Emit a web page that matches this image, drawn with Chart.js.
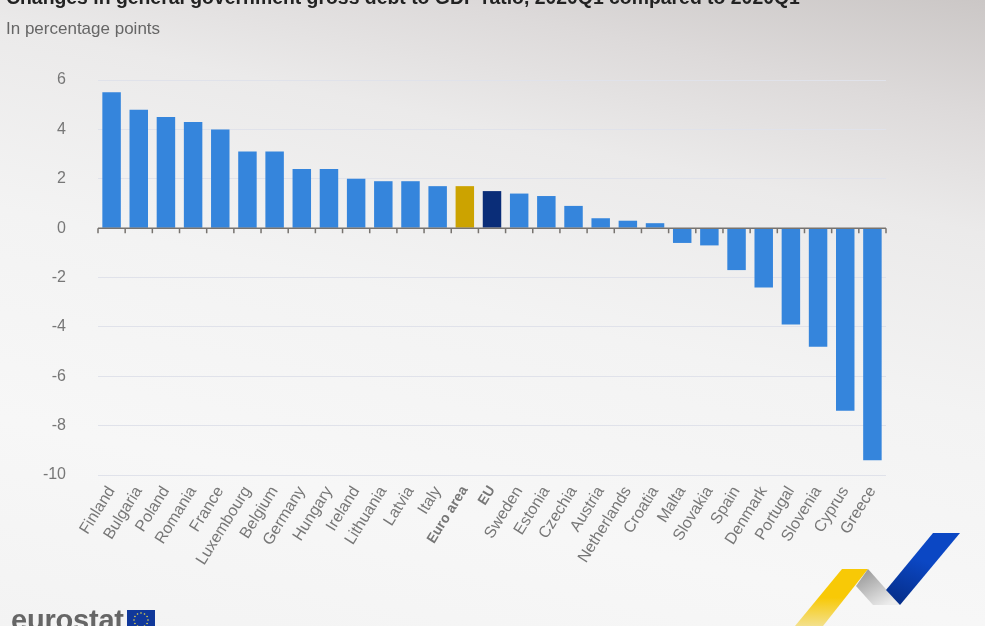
<!DOCTYPE html>
<html>
<head>
<meta charset="utf-8">
<title>Government debt change</title>
<script src="https://cdn.jsdelivr.net/npm/chart.js@4"></script>
<style>
  html, body { margin: 0; padding: 0; }
  body {
    position: relative; width: 985px; height: 626px; overflow: hidden;
    font-family: "Liberation Sans", Arial, sans-serif;
    background: linear-gradient(192deg, #cbc7c6 0%, #dddada 14%, #ebeaea 28%, #f3f3f3 50%, #f7f7f7 75%, #f3f3f3 100%);
  }
  #barChart { position: absolute; left: 0; top: 0; }
  .title { position: absolute; left: 6px; top: -14px; font-size: 19.4px; font-weight: bold; color: #222; white-space: nowrap; }
  .subtitle { position: absolute; left: 6px; top: 19px; font-size: 17px; color: #666; white-space: nowrap; }
  .brand { position: absolute; left: 11px; top: 604px; font-size: 29px; font-weight: bold; color: #666; letter-spacing: -0.2px; }
  svg { position: absolute; left: 0; top: 0; }
</style>
</head>
<body>
<canvas id="barChart" width="985" height="626"></canvas>
<div class="title">Changes in general government gross debt to GDP ratio, 2020Q1 compared to 2020Q1</div>
<div class="subtitle">In percentage points</div>
<div class="brand">eurostat</div>
<svg width="985" height="626" id="logos">
  <defs>
    <linearGradient id="yellow" x1="0" y1="0" x2="0" y2="1">
      <stop offset="0.5" stop-color="#f8c906"/><stop offset="1" stop-color="#f3e08c"/>
    </linearGradient>
    <linearGradient id="grey" x1="0" y1="0" x2="0.7" y2="1">
      <stop offset="0" stop-color="#8f8f8f"/><stop offset="1" stop-color="#ececec"/>
    </linearGradient>
    <linearGradient id="blue" x1="0.7" y1="0" x2="0.3" y2="1">
      <stop offset="0.4" stop-color="#0b47c4"/><stop offset="1" stop-color="#062f8c"/>
    </linearGradient>
  </defs>
  <polygon points="842,569 868,569 823,626 795,626" fill="url(#yellow)"/>
  <polygon points="868,569 900,605 873,605 856,586" fill="url(#grey)"/>
  <polygon points="933,533 960,533 900,605 886,590" fill="url(#blue)"/>
  <rect x="127" y="610" width="28" height="20" fill="#10389a"/>
  <g id="stars"></g>
</svg>
<script>
// Colores
const mainColor = '#3585dc';
const euroColor = '#cca300';
const euColor = '#0a2d78';
const textColor = '#777777';
const gridColor = '#e0e2ea';
const axisColor = '#77736f';

const categories = ['Finland', 'Bulgaria', 'Poland', 'Romania', 'France', 'Luxembourg', 'Belgium',
  'Germany', 'Hungary', 'Ireland', 'Lithuania', 'Latvia', 'Italy', 'Euro area', 'EU', 'Sweden',
  'Estonia', 'Czechia', 'Austria', 'Netherlands', 'Croatia', 'Malta', 'Slovakia', 'Spain',
  'Denmark', 'Portugal', 'Slovenia', 'Cyprus', 'Greece'];
const debtChange = [5.5, 4.8, 4.5, 4.3, 4.0, 3.1, 3.1, 2.4, 2.4, 2.0, 1.9, 1.9, 1.7, 1.7, 1.5, 1.4,
  1.3, 0.9, 0.4, 0.3, 0.2, -0.6, -0.7, -1.7, -2.4, -3.9, -4.8, -7.4, -9.4];
const boldLabels = ['Euro area', 'EU'];

// Estrellas de la bandera
const stars = document.getElementById('stars');
for (let i = 0; i < 12; i++) {
  const a = i / 12 * Math.PI * 2;
  const s = document.createElementNS('http://www.w3.org/2000/svg', 'circle');
  s.setAttribute('cx', 141 + Math.cos(a) * 7);
  s.setAttribute('cy', 620 + Math.sin(a) * 7);
  s.setAttribute('r', 0.8);
  s.setAttribute('fill', '#e8d84a');
  stars.appendChild(s);
}

// Linea del cero con marcas entre categorias
const zeroAxis = {
  id: 'zeroAxis',
  afterDatasetsDraw(chart) {
    const { ctx, scales: { x, y } } = chart;
    const y0 = y.getPixelForValue(0);
    const step = x.width / categories.length;
    ctx.save();
    ctx.strokeStyle = axisColor;
    ctx.lineWidth = 1.5;
    ctx.beginPath();
    ctx.moveTo(x.left, y0);
    ctx.lineTo(x.right, y0);
    for (let i = 0; i <= categories.length; i++) {
      ctx.moveTo(x.left + step * i, y0);
      ctx.lineTo(x.left + step * i, y0 + 5);
    }
    ctx.stroke();
    ctx.restore();
  }
};

new Chart(document.getElementById('barChart').getContext('2d'), {
  type: 'bar',
  data: {
    labels: categories,
    datasets: [{
      data: debtChange,
      backgroundColor: categories.map(c => c === 'Euro area' ? euroColor : c === 'EU' ? euColor : mainColor),
      barPercentage: 0.68,
      categoryPercentage: 1
    }]
  },
  options: {
    responsive: false,
    animation: false,
    layout: { padding: { top: 80, right: 99, left: 0, bottom: 0 } },
    plugins: { legend: { display: false }, title: { display: false }, tooltip: { enabled: false } },
    scales: {
      x: {
        afterFit(scale) { scale.height = 151; },
        grid: { display: false },
        border: { display: false },
        ticks: {
          autoSkip: false,
          minRotation: 58,
          maxRotation: 58,
          padding: 0,
          color: textColor,
          font: ctx => ({
            family: '"Liberation Sans", Arial, sans-serif',
            size: boldLabels.includes(categories[ctx.index]) ? 14 : 16,
            weight: boldLabels.includes(categories[ctx.index]) ? 'bold' : 'normal'
          })
        }
      },
      y: {
        min: -10,
        max: 6,
        afterFit(scale) { scale.width = 98; },
        border: { display: false },
        grid: { color: gridColor, lineWidth: 1, tickLength: 0 },
        ticks: {
          stepSize: 2,
          padding: 32,
          color: textColor,
          font: { family: '"Liberation Sans", Arial, sans-serif', size: 16 }
        }
      }
    }
  },
  plugins: [zeroAxis]
});
</script>
</body>
</html>
